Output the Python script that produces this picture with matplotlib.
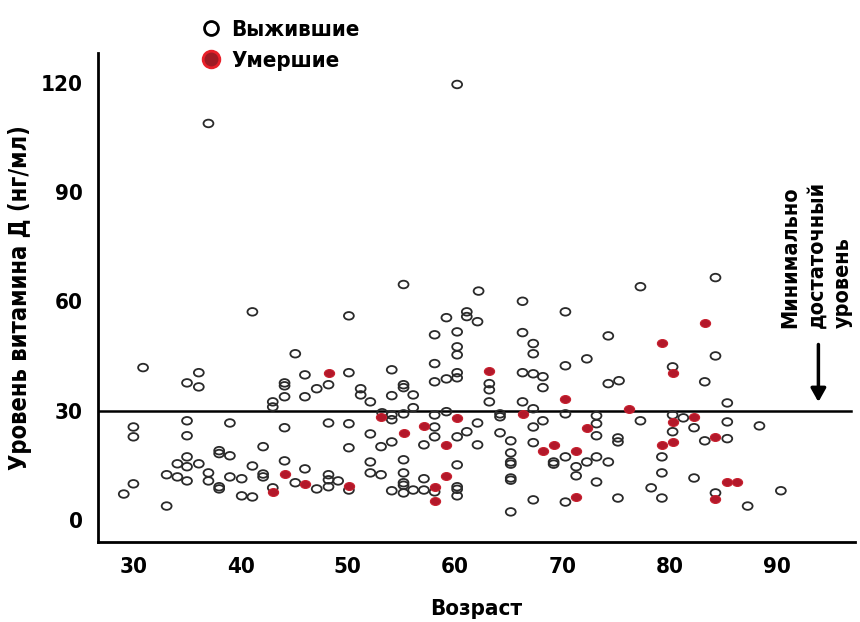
import matplotlib
matplotlib.use("Agg")
from matplotlib import pyplot as plt
from matplotlib.markers import MarkerStyle
from matplotlib.transforms import Affine2D

plt.rcParams['font.family'] = ['Liberation Sans Narrow', 'DejaVu Sans']
plt.rcParams['font.weight'] = 'bold'
plt.rcParams['font.stretch'] = 'condensed'

# выжившие
alive_age = [37.0, 60.2, 55.2, 62.2, 66.3, 77.3, 84.3,
    41.1, 30.9, 36.1, 35.0, 36.1, 44.1, 44.1, 44.1, 43.0, 43.0, 45.1, 30.0, 30.0,
    35.0, 35.0, 39.0, 44.1, 42.1, 38.0, 38.0, 39.0, 35.0, 34.1, 35.0, 36.1, 41.1,
    44.1, 33.1, 34.1, 35.0, 37.0, 37.0, 39.0, 40.1, 42.1, 42.1, 38.0, 38.0, 30.0,
    29.1, 33.1, 40.1, 41.1, 43.0,
    50.1, 59.2, 61.1, 61.1, 62.1, 58.1, 60.2, 60.2, 60.2, 58.1, 58.1, 59.2, 60.2,
    60.2, 46.0, 50.1, 54.1, 47.1, 48.2, 46.0, 51.2, 51.2, 52.1, 54.1, 55.2, 55.2,
    56.1, 56.1, 55.2, 53.2, 54.1, 54.1, 58.1, 59.2, 58.1, 58.1, 60.2, 61.1, 62.1,
    62.1, 57.1, 52.1, 54.1, 53.1, 48.2, 50.1, 50.1, 52.1, 55.2, 60.2, 52.1, 53.1,
    55.2, 57.1, 46.0, 48.2, 48.2, 49.1, 45.1, 47.1, 48.2, 50.1, 55.2, 55.2, 54.1,
    55.2, 56.1, 57.1, 58.1, 60.2, 60.2, 60.2,
    70.3, 66.3, 74.3, 67.3, 67.3, 66.3, 67.3, 68.2, 68.2, 70.3, 72.3, 74.3, 75.3,
    63.2, 63.2, 63.2, 66.3, 67.3, 64.2, 64.2, 67.3, 68.2, 70.3, 73.2, 73.2, 73.2,
    77.3, 64.2, 65.2, 67.3, 75.2, 75.2, 79.3, 79.3, 65.2, 65.2, 65.2, 69.2, 69.2,
    70.3, 72.3, 73.2, 74.3, 71.3, 71.3, 65.2, 65.2, 73.2, 78.3, 67.3, 70.3, 75.2,
    79.3, 65.2,
    84.3, 80.3, 83.3, 85.4, 80.3, 81.3, 80.3, 82.3, 85.4, 88.4, 83.3, 85.4, 82.3,
    84.3, 87.3, 90.4]
alive_vitd = [108.8, 119.5, 64.6, 62.8, 60.0, 64.0, 66.5,
    57.1, 41.8, 40.4, 37.6, 36.5, 37.6, 36.8, 33.8, 32.4, 31.0, 45.6, 25.5, 22.8,
    27.2, 23.1, 26.6, 25.3, 20.1, 19.0, 18.2, 17.6, 17.3, 15.4, 14.6, 15.4, 14.8,
    16.2, 12.4, 11.8, 10.7, 12.9, 10.7, 11.8, 11.3, 12.6, 11.8, 9.1, 8.5, 9.9,
    7.1, 3.8, 6.6, 6.3, 8.8,
    56.0, 55.5, 57.1, 55.8, 54.4, 50.8, 51.6, 47.5, 45.3, 42.9, 37.9, 38.7, 40.4,
    39.0, 39.8, 40.4, 41.2, 36.0, 37.1, 33.8, 36.0, 34.3, 32.4, 34.1, 37.1, 36.3,
    34.3, 30.8, 29.1, 29.4, 28.8, 27.5, 28.8, 29.7, 25.5, 22.8, 22.8, 24.2, 26.6,
    20.6, 20.6, 23.6, 21.4, 20.1, 26.6, 26.4, 19.8, 15.9, 16.5, 15.1, 12.9, 12.4,
    12.9, 11.3, 14.0, 12.4, 11.0, 10.7, 10.2, 8.5, 9.1, 8.2, 10.2, 9.5, 8.0,
    7.4, 8.2, 8.2, 7.7, 9.1, 8.4, 6.6,
    57.1, 51.4, 50.5, 48.4, 45.6, 40.4, 40.1, 39.3, 36.3, 42.3, 44.2, 37.4, 38.2,
    37.4, 35.7, 32.4, 32.4, 30.5, 29.1, 28.3, 25.5, 27.2, 29.1, 28.6, 26.4, 23.1,
    27.2, 23.9, 21.7, 21.2, 22.5, 21.4, 17.3, 12.9, 18.4, 15.9, 15.3, 15.9, 15.3,
    17.3, 15.9, 17.3, 15.9, 14.6, 12.1, 11.5, 10.9, 10.4, 8.8, 5.5, 4.9, 6.0,
    6.0, 2.2,
    45.0, 42.0, 37.9, 32.1, 28.8, 28.0, 24.2, 25.3, 26.9, 25.8, 21.7, 22.3, 11.5,
    7.4, 3.8, 8.0]

# умершие
dead_age = [44.1, 43.0, 48.2, 53.1, 60.2, 55.2, 57.1, 59.2, 59.2, 46.0, 50.1,
    58.1, 58.1, 79.3, 63.2, 70.3, 66.3, 76.2, 72.3, 68.2, 69.2, 71.3, 79.3, 71.3,
    83.3, 80.3, 80.3, 82.3, 80.3, 84.3, 85.4, 86.3, 84.3]
dead_vitd = [12.6, 7.7, 40.4, 28.3, 28.0, 23.9, 25.8, 20.6, 12.1, 9.9, 9.3,
    9.1, 5.2, 48.6, 40.9, 33.2, 29.1, 30.5, 25.3, 19.0, 20.6, 19.0, 20.6, 6.3,
    54.1, 40.4, 26.9, 28.3, 21.4, 22.8, 10.4, 10.4, 5.8]

threshold = 30

oval = MarkerStyle('o', transform=Affine2D().scale(1.3, 1.0))

fig = plt.figure(figsize=(8.6, 6.22), dpi=100)
ax = fig.add_axes([0.114, 0.129, 0.88, 0.785])

ax.scatter(alive_age, alive_vitd, s=30, marker=oval, facecolors='none',
           edgecolors='#2a2a2a', linewidths=1.3, zorder=3)
ax.scatter(dead_age, dead_vitd, s=32, marker=oval, color='#b3182a',
           edgecolors='#c8202e', linewidths=0.8, zorder=4)

ax.plot([26.7, 96.9], [threshold, threshold], color='black', lw=1.8, zorder=2)

ax.set_xlim(26.7, 97.3)
ax.set_ylim(-6, 128)
ax.set_xticks([30, 40, 50, 60, 70, 80, 90])
ax.set_yticks([0, 30, 60, 90, 120])
ax.tick_params(length=0, labelsize=16, pad=11)
for s in ('top', 'right'):
    ax.spines[s].set_visible(False)
for s in ('left', 'bottom'):
    ax.spines[s].set_linewidth(2)

ax.set_xlabel('Возраст', fontsize=16, fontweight='bold', labelpad=16)
ax.set_ylabel('Уровень витамина Д (нг/мл)', fontsize=17, fontweight='bold', labelpad=6)

ax.text(93.7, 52.7, 'Минимально\nдостаточный\nуровень', rotation=90,
        ha='center', va='bottom', multialignment='left', fontsize=15.5,
        fontweight='bold', linespacing=1.4)
ax.annotate('', xy=(93.9, 31.6), xytext=(93.9, 48.9),
            arrowprops=dict(arrowstyle='-|>,head_width=0.45,head_length=0.8',
                            color='black', lw=2.5))

# легенда над графиком
fig.legend([plt.Line2D([], [], ls='', marker='o', ms=10, mfc='none', mec='black', mew=2),
            plt.Line2D([], [], ls='', marker='o', ms=12, mfc='#9e1b24', mec='#e8202a', mew=2)],
           ['Выжившие', 'Умершие'], loc='upper left', bbox_to_anchor=(0.207, 1.0),
           frameon=False, prop={'size': 16, 'weight': 'bold', 'stretch': 'condensed'},
           handletextpad=0.3, labelspacing=0.5, handlelength=1.2)

fig.savefig('out.png', dpi=100)
